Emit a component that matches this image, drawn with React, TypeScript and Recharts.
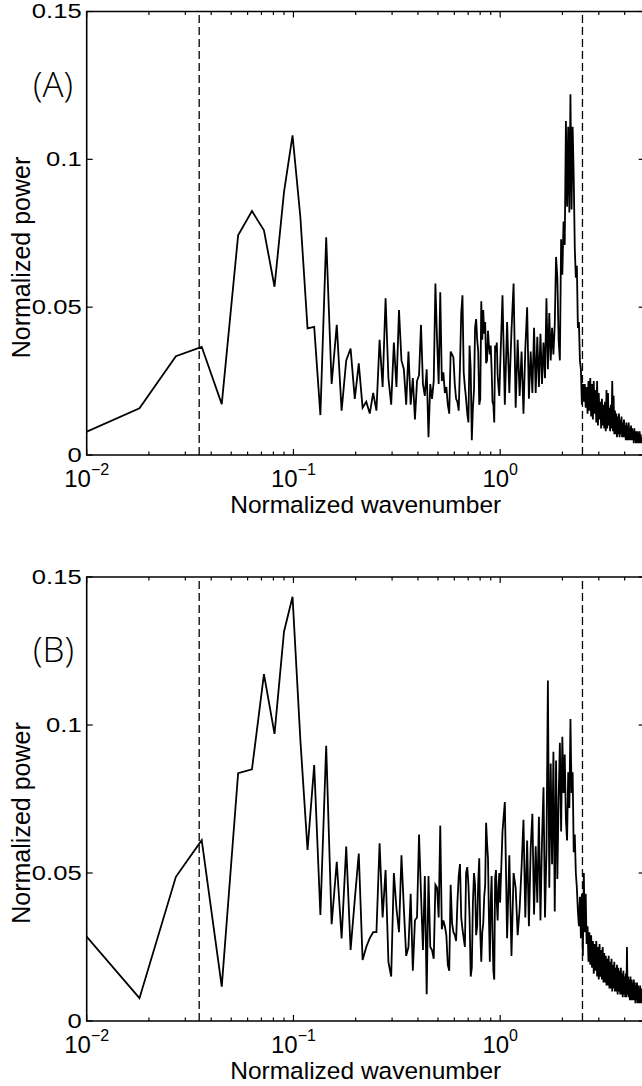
import { Line, LineChart, ReferenceArea, ReferenceLine, XAxis, YAxis } from "recharts";

// wavenumber grid of the spectrum: bins 1..110 are listed one by one,
// past that only every third bin is kept (they are under a pixel apart there)
const BIN_WIDTH = 0.009;
const COARSE_STEP = 3;

const powerFineA = [
  0.0065, 0.0158, 0.0334, 0.0366, 0.0172, 0.0743, 0.0825, 0.076, 0.0569, 0.0889,
  0.1081, 0.0805, 0.0428, 0.0433, 0.0135, 0.0736, 0.024, 0.044, 0.015, 0.032,
  0.036, 0.019, 0.031, 0.016, 0.018, 0.014, 0.021, 0.015, 0.039, 0.023,
  0.053, 0.026, 0.017, 0.038, 0.023, 0.049, 0.032, 0.029, 0.017, 0.035,
  0.017, 0.026, 0.012, 0.025, 0.027, 0.044, 0.024, 0.02, 0.029, 0.006,
  0.024, 0.019, 0.025, 0.058, 0.039, 0.024, 0.055, 0.025, 0.028, 0.021,
  0.023, 0.017, 0.014, 0.035, 0.034, 0.033, 0.024, 0.019, 0.018, 0.015,
  0.03, 0.048, 0.054, 0.028, 0.023, 0.019, 0.014, 0.011, 0.037, 0.029,
  0.005, 0.016, 0.022, 0.043, 0.046, 0.039, 0.035, 0.017, 0.019, 0.052,
  0.039, 0.049, 0.041, 0.045, 0.031, 0.032, 0.042, 0.037, 0.034, 0.037,
  0.029, 0.018, 0.017, 0.011, 0.037, 0.035, 0.038, 0.027, 0.023, 0.02,
];

const powerCoarseA = [
  0.029, 0.054, 0.017, 0.045, 0.021, 0.042, 0.058, 0.016, 0.039, 0.02,
  0.035, 0.014, 0.036, 0.05, 0.019, 0.035, 0.021, 0.043, 0.021, 0.04,
  0.023, 0.041, 0.024, 0.038, 0.026, 0.053, 0.029, 0.048, 0.032, 0.043,
  0.034, 0.044, 0.067, 0.06, 0.039, 0.032, 0.073, 0.061, 0.079, 0.071,
  0.113, 0.084, 0.111, 0.082, 0.122, 0.083, 0.111, 0.094, 0.07, 0.06,
  0.064, 0.043, 0.045, 0.032, 0.029, 0.017, 0.024, 0.018, 0.024, 0.016,
  0.023, 0.014, 0.025, 0.015, 0.026, 0.013, 0.024, 0.012, 0.025, 0.014,
  0.022, 0.011, 0.025, 0.01, 0.021, 0.012, 0.018, 0.009, 0.019, 0.01,
  0.017, 0.009, 0.018, 0.008, 0.022, 0.009, 0.021, 0.01, 0.016, 0.008,
  0.017, 0.009, 0.025, 0.008, 0.02, 0.007, 0.015, 0.007, 0.014, 0.006,
  0.013, 0.007, 0.014, 0.006, 0.012, 0.007, 0.013, 0.006, 0.011, 0.006,
  0.012, 0.006, 0.01, 0.005, 0.011, 0.005, 0.01, 0.005, 0.011, 0.005,
  0.009, 0.005, 0.01, 0.005, 0.009, 0.005, 0.008, 0.004, 0.009, 0.005,
  0.008, 0.004, 0.008, 0.004, 0.008, 0.004, 0.007, 0.004, 0.008, 0.004,
  0.007, 0.004, 0.006, 0.004, 0.006,
];

const powerFineB = [
  0.0322, 0.0077, 0.0487, 0.0611, 0.0116, 0.0837, 0.085, 0.1172, 0.097, 0.1315,
  0.1433, 0.095, 0.0578, 0.0865, 0.0358, 0.093, 0.0327, 0.0538, 0.0279, 0.0589,
  0.024, 0.041, 0.0566, 0.0206, 0.025, 0.028, 0.03, 0.03, 0.06, 0.035,
  0.051, 0.02, 0.015, 0.05, 0.038, 0.03, 0.056, 0.038, 0.022, 0.025,
  0.043, 0.017, 0.034, 0.035, 0.063, 0.043, 0.024, 0.049, 0.009, 0.049,
  0.025, 0.024, 0.021, 0.046, 0.045, 0.035, 0.066, 0.031, 0.034, 0.032,
  0.029, 0.019, 0.017, 0.046, 0.033, 0.03, 0.029, 0.027, 0.04, 0.049,
  0.053, 0.035, 0.031, 0.028, 0.025, 0.05, 0.052, 0.046, 0.035, 0.015,
  0.018, 0.04, 0.05, 0.046, 0.029, 0.032, 0.047, 0.055, 0.03, 0.02,
  0.03, 0.033, 0.042, 0.046, 0.067, 0.06, 0.055, 0.035, 0.02, 0.04,
  0.049, 0.03, 0.017, 0.014, 0.048, 0.051, 0.04, 0.034, 0.045, 0.05,
];

const powerCoarseB = [
  0.04, 0.064, 0.074, 0.028, 0.056, 0.022, 0.05, 0.045, 0.029, 0.038,
  0.052, 0.068, 0.035, 0.061, 0.032, 0.058, 0.07, 0.036, 0.059, 0.04,
  0.069, 0.034, 0.061, 0.079, 0.035, 0.057, 0.115, 0.045, 0.087, 0.053,
  0.091, 0.037, 0.088, 0.048, 0.075, 0.094, 0.064, 0.096, 0.077, 0.09,
  0.068, 0.061, 0.084, 0.072, 0.102, 0.077, 0.084, 0.057, 0.063, 0.05,
  0.045, 0.037, 0.032, 0.042, 0.028, 0.043, 0.022, 0.05, 0.03, 0.043,
  0.026, 0.032, 0.02, 0.03, 0.019, 0.029, 0.018, 0.027, 0.016, 0.026,
  0.017, 0.027, 0.015, 0.025, 0.014, 0.026, 0.015, 0.024, 0.014, 0.025,
  0.013, 0.023, 0.013, 0.022, 0.012, 0.021, 0.012, 0.022, 0.011, 0.02,
  0.011, 0.021, 0.01, 0.019, 0.011, 0.02, 0.01, 0.018, 0.01, 0.019,
  0.009, 0.018, 0.01, 0.017, 0.009, 0.018, 0.009, 0.016, 0.008, 0.017,
  0.009, 0.015, 0.008, 0.016, 0.008, 0.025, 0.009, 0.015, 0.008, 0.014,
  0.007, 0.015, 0.007, 0.014, 0.007, 0.013, 0.007, 0.014, 0.007, 0.013,
  0.006, 0.012, 0.007, 0.013, 0.006, 0.012, 0.006, 0.011, 0.006, 0.012,
  0.006, 0.011, 0.006, 0.01, 0.006,
];

const cutoffWavenumbers = [0.035, 2.5];
const majorTicks = [0.01, 0.1, 1];
const minorTicks = [
  0.02, 0.03, 0.04, 0.05, 0.06, 0.07, 0.08, 0.09,
  0.2, 0.3, 0.4, 0.5, 0.6, 0.7, 0.8, 0.9,
  2, 3, 4, 5,
];
const powerTicks = [0, 0.05, 0.1, 0.15];
const xDomain = [0.01, 5];
const yDomain = [0, 0.15];

const FONT = "'Liberation Sans', Arial, Helvetica, sans-serif";
const CHART_WIDTH = 660;
const MARGIN_LEFT = 26.7;
const MARGIN_RIGHT = 15.3;
const Y_AXIS_WIDTH = 60;
const X_AXIS_HEIGHT = 40;
const PLOT_WIDTH = CHART_WIDTH - MARGIN_LEFT - MARGIN_RIGHT - Y_AXIS_WIDTH;

// font sizes of the "10^n" tick labels and rough Arial advance widths (em)
const BASE_SIZE = 24;
const EXP_SIZE = 16;
const DIGIT_EM = 0.556;
const MINUS_EM = 0.584;

function toSeries(fine: number[], coarse: number[]) {
  const points = fine.map((p, i) => ({ k: (i + 1) * BIN_WIDTH, p }));
  const firstCoarse = fine.length + 1;
  coarse.forEach((p, j) => {
    points.push({ k: (firstCoarse + j * COARSE_STEP) * BIN_WIDTH, p });
  });
  return points;
}

function exponentOf(value: number) {
  return Math.round(Math.log10(value));
}

function WavenumberTick({ x, y, payload, plotHeight }: any) {
  const value = payload?.value as number;
  const major = majorTicks.includes(value);
  const len = major ? 6 : 3.5;
  let label = null;
  if (major) {
    const e = exponentOf(value);
    const expText = e < 0 ? `\u2212${-e}` : `${e}`;
    const baseW = 2 * DIGIT_EM * BASE_SIZE;
    const expW = ((e < 0 ? MINUS_EM : 0) + String(Math.abs(e)).length * DIGIT_EM) * EXP_SIZE;
    const start = x - (baseW + expW) / 2;
    label = (
      <g fontFamily={FONT} fill="#000">
        <text x={start} y={y + 32} fontSize={BASE_SIZE}>
          10
        </text>
        <text x={start + baseW} y={y + 20} fontSize={EXP_SIZE}>
          {expText}
        </text>
      </g>
    );
  }
  return (
    <g>
      <line x1={x} x2={x} y1={y} y2={y - len} stroke="#000" strokeWidth={1.2} />
      <line x1={x} x2={x} y1={y - plotHeight} y2={y - plotHeight + len} stroke="#000" strokeWidth={1.2} />
      {label}
    </g>
  );
}

function PowerTick({ x, y, payload }: any) {
  const value = payload?.value as number;
  return (
    <g>
      <line x1={x} x2={x + 6} y1={y} y2={y} stroke="#000" strokeWidth={1.2} />
      <line x1={x + PLOT_WIDTH} x2={x + PLOT_WIDTH - 6} y1={y} y2={y} stroke="#000" strokeWidth={1.2} />
      <g transform={`translate(${x - 5} ${y + 6.5}) scale(1.28 1)`}>
        <text x={0} y={0} textAnchor="end" fontFamily={FONT} fontSize={20} fill="#000">
          {String(value)}
        </text>
      </g>
    </g>
  );
}

function Panel({
  data,
  tag,
  height,
  marginTop,
  marginBottom,
}: {
  data: { k: number; p: number }[];
  tag: string;
  height: number;
  marginTop: number;
  marginBottom: number;
}) {
  const plotHeight = height - marginTop - marginBottom - X_AXIS_HEIGHT;
  return (
    <LineChart
      width={CHART_WIDTH}
      height={height}
      data={data}
      margin={{ top: marginTop, right: MARGIN_RIGHT, bottom: marginBottom, left: MARGIN_LEFT }}
    >
      <XAxis
        dataKey="k"
        type="number"
        scale="log"
        domain={xDomain}
        allowDataOverflow
        ticks={[...majorTicks, ...minorTicks].sort((a, b) => a - b)}
        interval={0}
        height={X_AXIS_HEIGHT}
        tickSize={0}
        tickMargin={0}
        tickLine={false}
        axisLine={false}
        tick={(props: any) => <WavenumberTick {...props} plotHeight={plotHeight} />}
        label={(props: any) => {
          const vb = props.viewBox ?? {};
          return (
            <text
              x={(vb.x ?? 0) + (vb.width ?? 0) / 2}
              y={(vb.y ?? 0) + 58}
              textAnchor="middle"
              fontFamily={FONT}
              fontSize={24.5}
              fill="#000"
            >
              Normalized wavenumber
            </text>
          );
        }}
      />
      <YAxis
        type="number"
        domain={yDomain}
        allowDataOverflow
        ticks={powerTicks}
        interval={0}
        width={Y_AXIS_WIDTH}
        tickSize={0}
        tickMargin={0}
        tickLine={false}
        axisLine={false}
        tick={(props: any) => <PowerTick {...props} />}
        label={(props: any) => {
          const top = props.viewBox?.y ?? 0;
          const cy = top + 246;
          return (
            <g fill="#000">
              <text
                x={30}
                y={cy}
                transform={`rotate(-90 30 ${cy})`}
                textAnchor="middle"
                fontFamily={FONT}
                fontSize={25}
              >
                Normalized power
              </text>
              <text x={33} y={top + 85} fontFamily="'Open Sans', sans-serif" fontWeight={300} fontSize={35}>
                {tag}
              </text>
            </g>
          );
        }}
      />
      <ReferenceArea
        x1={xDomain[0]}
        x2={xDomain[1]}
        y1={yDomain[0]}
        y2={yDomain[1]}
        fill="none"
        fillOpacity={0}
        stroke="#000"
        strokeWidth={1.6}
      />
      {cutoffWavenumbers.map((c) => (
        <ReferenceLine key={c} x={c} stroke="#000" strokeWidth={1.3} strokeDasharray="8 4" />
      ))}
      <Line
        dataKey="p"
        type="linear"
        stroke="#000"
        strokeWidth={1.8}
        dot={false}
        activeDot={false}
        isAnimationActive={false}
      />
    </LineChart>
  );
}

export default function App() {
  const seriesA = toSeries(powerFineA, powerCoarseA);
  const seriesB = toSeries(powerFineB, powerCoarseB);
  return (
    <div
      style={{
        position: "absolute",
        left: 0,
        top: 0,
        width: 642,
        height: 1086,
        overflow: "hidden",
        background: "#fff",
      }}
    >
      <div style={{ position: "absolute", left: 0, top: 0 }}>
        <Panel data={seriesA} tag="(A)" height={560} marginTop={11.5} marginBottom={65} />
      </div>
      <div style={{ position: "absolute", left: 0, top: 560 }}>
        <Panel data={seriesB} tag="(B)" height={526} marginTop={17} marginBottom={25} />
      </div>
    </div>
  );
}
